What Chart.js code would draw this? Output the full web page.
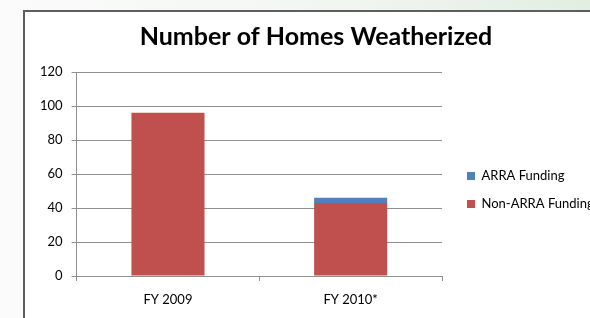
<!DOCTYPE html>
<html>
<head>
<meta charset="utf-8">
<script src="https://cdn.jsdelivr.net/npm/chart.js@4.4.0/dist/chart.umd.min.js"></script>
<style>
  html, body { margin: 0; padding: 0; width: 590px; height: 318px; overflow: hidden; }
  body { background: linear-gradient(to right, #fbfbfb 0%, #f3f7f3 50%, #e2eee2 100%); position: relative; }
  #frame {
    position: absolute; left: 23px; top: 10px; width: 620px; height: 360px;
    background: #fff; border-left: 2px solid #5e5e5e; border-top: 2px solid #5e5e5e;
  }
  #graficoCasas { position: absolute; left: 0; top: 0; }
</style>
</head>
<body>
<div id="frame"><canvas id="graficoCasas" width="576" height="356"></canvas></div>
<script>
// dados
const anos = ['FY 2009', 'FY 2010*'];
const naoArra = [96, 43];
const arra = [0, 3];
const ticksY = [0, 20, 40, 60, 80, 100, 120];

const fonte = 'Lato, "Open Sans", sans-serif';

// a legenda do Chart.js fica limitada a uma fração da largura; aqui ela ganha a largura certa
const larguraLegenda = {
    id: 'larguraLegenda',
    afterInit(chart) {
        const legenda = chart.legend;
        const fitOriginal = legenda.fit;
        legenda.fit = function () {
            fitOriginal.call(this);
            this.width = 149;
        };
    }
};

const ctx = document.getElementById('graficoCasas').getContext('2d');
const graficoCasas = new Chart(ctx, {
    type: 'bar',
    data: {
        labels: anos,
        datasets: [{
            label: 'Non-ARRA Funding',
            data: naoArra,
            backgroundColor: '#C0504D',
            barPercentage: 0.4,
            categoryPercentage: 1
        }, {
            label: 'ARRA Funding',
            data: arra,
            backgroundColor: '#4F81BD',
            barPercentage: 0.4,
            categoryPercentage: 1
        }]
    },
    plugins: [larguraLegenda],
    options: {
        responsive: false,
        animation: false,
        layout: { padding: { left: 6, right: 0, top: 0, bottom: 0 } },
        plugins: {
            title: {
                display: true,
                text: 'Number of Homes Weatherized',
                color: '#000',
                font: { family: fonte, size: 25, weight: 'bold' },
                padding: { top: 10, bottom: 20 }
            },
            legend: {
                position: 'right',
                reverse: true,
                labels: {
                    color: '#000',
                    font: { family: fonte, size: 13 },
                    boxWidth: 8,
                    boxHeight: 8,
                    padding: 15
                }
            },
            tooltip: { enabled: false }
        },
        scales: {
            x: {
                stacked: true,
                grid: { display: true, drawOnChartArea: false, offset: true, tickLength: 5, color: '#8f8f8f' },
                border: { color: '#8f8f8f' },
                ticks: { color: '#000', font: { family: fonte, size: 13 }, padding: 11 },
                afterFit: axis => { axis.height = 92; }
            },
            y: {
                stacked: true,
                min: 0,
                max: 120,
                afterBuildTicks: axis => { axis.ticks = ticksY.map(v => ({ value: v })); },
                grid: { color: '#8f8f8f', tickLength: 5 },
                border: { color: '#8f8f8f' },
                ticks: { color: '#000', font: { family: fonte, size: 13 }, padding: 9 }
            },
            espaco: {
                position: 'right',
                display: true,
                grid: { display: false },
                border: { display: false },
                ticks: { display: false },
                afterFit: axis => { axis.width = 10; }
            }
        }
    }
});
</script>
</body>
</html>
